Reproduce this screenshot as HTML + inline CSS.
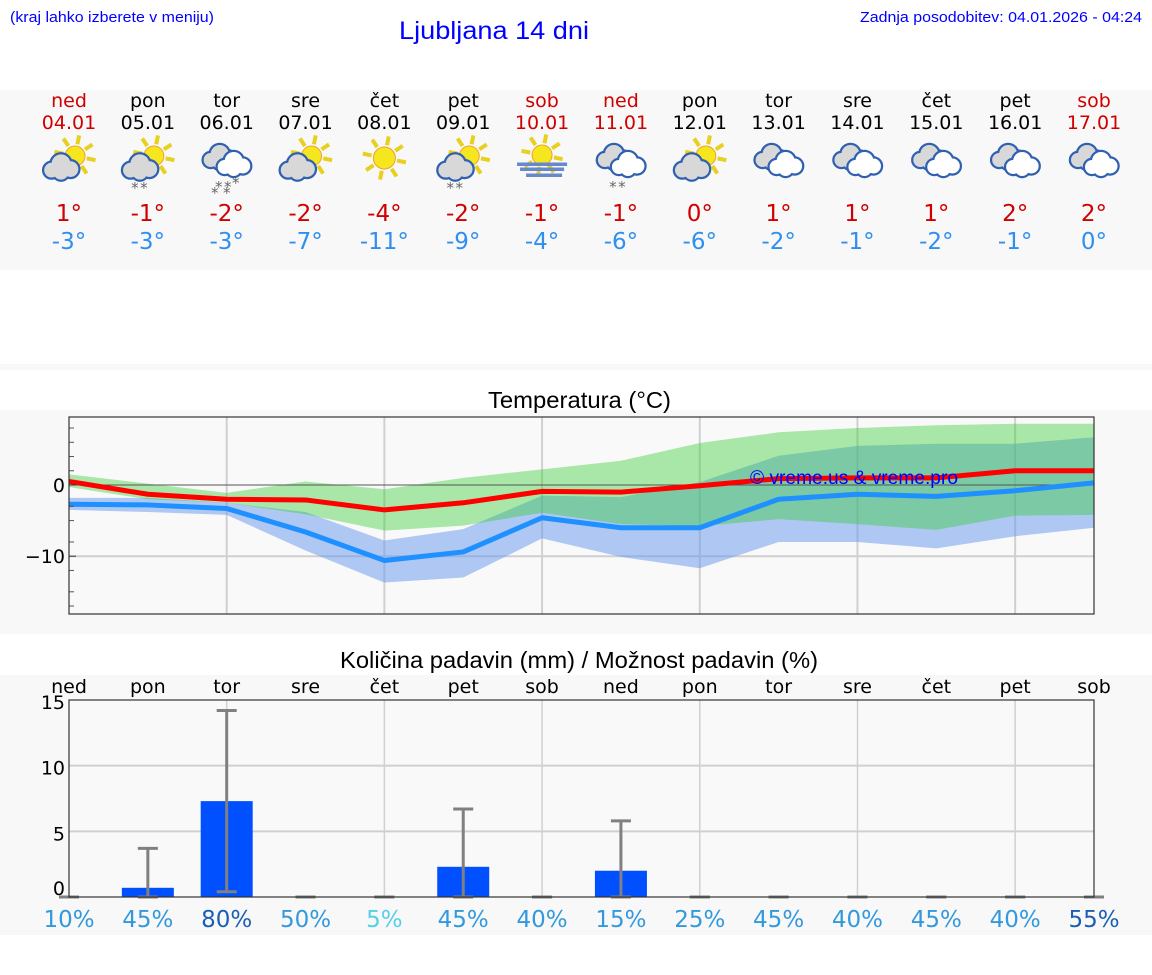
<!DOCTYPE html>
<html><head><meta charset="utf-8">
<style>
html,body{margin:0;padding:0;background:#fff;width:1152px;height:975px;overflow:hidden}
svg{display:block}
text{font-family:"DejaVu Sans","Liberation Sans",sans-serif}
.ar{font-family:"Liberation Sans",sans-serif}
</style></head>
<body>
<svg id="root" width="1152" height="975" viewBox="0 0 1152 975" xmlns="http://www.w3.org/2000/svg">
  <rect x="0" y="90" width="1152" height="180" fill="#f8f8f8"/>
  <rect x="0" y="364" width="1152" height="6" fill="#f8f8f8"/>
  <rect x="0" y="410" width="1152" height="224" fill="#f8f8f8"/>
  <rect x="0" y="675" width="1152" height="260" fill="#f8f8f8"/>
  <text class="ar" x="10" y="22" font-size="15" fill="#0000ff" textLength="204" lengthAdjust="spacingAndGlyphs">(kraj lahko izberete v meniju)</text>
  <text class="ar" x="399" y="39" font-size="25" fill="#0000ff" textLength="190" lengthAdjust="spacingAndGlyphs">Ljubljana 14 dni</text>
  <text class="ar" x="860" y="22" font-size="15" fill="#0000ff" textLength="282" lengthAdjust="spacingAndGlyphs">Zadnja posodobitev: 04.01.2026 - 04:24</text>
  <g id="days"></g>
  <text class="ar" x="488" y="408" font-size="23" fill="#000" textLength="183" lengthAdjust="spacingAndGlyphs">Temperatura (°C)</text>
  <g id="temp"></g>
  <text class="ar" x="340" y="668" font-size="23" fill="#000" textLength="478" lengthAdjust="spacingAndGlyphs">Količina padavin (mm) / Možnost padavin (%)</text>
  <g id="prec"></g>
</svg>
<script>
const dayNames=["ned","pon","tor","sre","čet","pet","sob","ned","pon","tor","sre","čet","pet","sob"];
const dates=["04.01","05.01","06.01","07.01","08.01","09.01","10.01","11.01","12.01","13.01","14.01","15.01","16.01","17.01"];
const iconTypes=["pc","pcs","cs","pc","sun","pcs","fog","cs","pc","cl","cl","cl","cl","cl"];
const dayMax=[1,-1,-2,-2,-4,-2,-1,-1,0,1,1,1,2,2];
const dayMin=[-3,-3,-3,-7,-11,-9,-4,-6,-6,-2,-1,-2,-1,0];
const tMax=[0.5,-1.3,-2,-2.1,-3.5,-2.5,-0.9,-1,-0.1,0.9,1,1,2,2];
const tMin=[-2.7,-2.8,-3.3,-6.6,-10.6,-9.4,-4.6,-6,-6,-2,-1.3,-1.6,-0.8,0.3];
const maxHi=[1.5,0.2,-1.1,0.5,-0.6,1,2.2,3.4,5.9,7.4,8,8.4,8.6,8.6];
const maxLo=[-0.3,-2,-2.5,-4.1,-6.4,-5.7,-3.9,-5.5,-5.8,-4.8,-5.5,-6.3,-4.3,-4.2];
const minHi=[-1.8,-1.8,-2.5,-3.8,-7.8,-6.2,-1.5,-1.7,0.4,4.1,5.5,5.8,5.8,6.7];
const minLo=[-3.5,-3.8,-4.2,-9.2,-13.7,-13,-7.5,-10.1,-11.7,-8,-8,-8.9,-7.2,-6];
const tTicks=[0,-10];
const precip=[0,0.7,7.3,0,0,2.3,0,2.0,0,0,0,0,0,0];
const errHi=[0,3.7,14.2,0,0,6.7,0,5.8,0,0,0,0,0,0];
const errLo=[0,0,0.4,0,0,0,0,0,0,0,0,0,0,0];
const probs=[10,45,80,50,5,45,40,15,25,45,40,45,40,55];
const pTicks=[15,10,5,0];

const NS="http://www.w3.org/2000/svg";
function mk(tag,attrs,parent,txt){const e=document.createElementNS(NS,tag);for(const k in attrs)e.setAttribute(k,attrs[k]);if(txt!==undefined)e.textContent=txt;parent.appendChild(e);return e;}
const X0=69,X1=1094;
const xd=i=>X0+i*(X1-X0)/13;
const redDay=i=>(i===0||i===6||i===7||i===13);

const days=document.getElementById('days');
function sun(g,cx,cy,r){
  for(let k=0;k<8;k++){const a=k*Math.PI/4+0.2;
    mk('line',{x1:cx+Math.cos(a)*(r+2),y1:cy+Math.sin(a)*(r+2),x2:cx+Math.cos(a)*(r+11),y2:cy+Math.sin(a)*(r+11),stroke:'#e8d020','stroke-width':4},g);}
  mk('circle',{cx:cx,cy:cy,r:r,fill:'#f5e61e',stroke:'#f0a030','stroke-width':1},g);
}
function cloud(g,cx,cy,s,fill){
  const c=[[-9,3,7],[0,-3,9],[9,2,7.5],[0,5,7]];
  c.forEach(p=>mk('circle',{cx:cx+p[0]*s,cy:cy+p[1]*s,r:p[2]*s,fill:'#3060b0',stroke:'#3060b0','stroke-width':4.5},g));
  c.forEach(p=>mk('circle',{cx:cx+p[0]*s,cy:cy+p[1]*s,r:p[2]*s,fill:fill},g));
}
function snow(g,pts){pts.forEach(p=>mk('text',{x:p[0],y:p[1],'font-size':15,fill:'#666','text-anchor':'middle'},g,'*'));}
for(let i=0;i<14;i++){
  const cx=xd(i);
  const col=mk('g',{},days);
  
  
  const c=redDay(i)?'#d00000':'#000';
  mk('text',{x:cx,y:107,'font-size':19,'text-anchor':'middle',fill:c},col,dayNames[i]);
  mk('text',{x:cx,y:129,'font-size':19,'text-anchor':'middle',fill:c},col,dates[i]);
  const ic=mk('g',{},col);
  
  
  const t=iconTypes[i];
  if(t==='pc'||t==='pcs'){sun(ic,cx+6,156,10);cloud(ic,cx-8,167,1.05,'#d8d8d8');if(t==='pcs')snow(ic,[[cx-13,193],[cx-4,193]]);}
  else if(t==='sun'){sun(ic,cx,158,11);}
  else if(t==='fog'){sun(ic,cx,155,10);[[164,50,0],[169,44,0],[175,36,2]].forEach(f=>mk('rect',{x:cx-f[1]/2+f[2],y:f[0]-1.5,width:f[1],height:3.5,fill:'#6688cc'},ic));}
  else {cloud(ic,cx-7,157,1.0,'#d8d8d8');cloud(ic,cx+7,164,1.0,'#fff');if(t==='cs')snow(ic,[[cx-8,192],[cx+1,192]].concat(i===2?[[cx-12,198],[cx,198],[cx+9,188]]:[]));}
  const a=mk('text',{x:cx,y:221,'font-size':23,'text-anchor':'middle',fill:'#d00000'},col,dayMax[i]+'°');
  
  
  const b=mk('text',{x:cx,y:249,'font-size':23,'text-anchor':'middle',fill:'#2f8ff0'},col,dayMin[i]+'°');
  
  
}

const tg=document.getElementById('temp');
const TY0=417,TY1=614;
const yt=v=>485-v*7.12;
mk('rect',{x:X0,y:TY0,width:X1-X0,height:TY1-TY0,fill:'#f9f9f9'},tg);
for(let k=2;k<13;k+=2)mk('line',{x1:xd(k),x2:xd(k),y1:TY0,y2:TY1,stroke:'#d0d0d0','stroke-width':2},tg);
mk('line',{x1:X0,x2:X1,y1:yt(-10),y2:yt(-10),stroke:'#d0d0d0','stroke-width':2},tg);
function band(hi,lo,fill,op,name){
  let d='M'+hi.map((v,i)=>xd(i)+','+yt(v)).join('L')+'L'+lo.map((v,i)=>xd(i)+','+yt(v)).reverse().join('L')+'Z';
  const p=mk('path',{d:d,fill:fill,'fill-opacity':op},tg);
  
  
}
band(minHi,minLo,'#6495ed',0.5,'min-temp-range');
band(maxHi,maxLo,'#32cd32',0.4,'max-temp-range');
mk('line',{x1:X0,x2:X1,y1:yt(0),y2:yt(0),stroke:'#555','stroke-width':1},tg);
function line(arr,color,name){
  const p=mk('polyline',{points:arr.map((v,i)=>xd(i)+','+yt(v)).join(' '),fill:'none',stroke:color,'stroke-width':5,'stroke-linejoin':'round'},tg);
  
  
}
line(tMin,'#1e90ff','min-temp-line');
line(tMax,'#ff0000','max-temp-line');
const wm=mk('text',{x:750,y:484,'font-size':19,fill:'#0000ff',class:'ar',textLength:208,lengthAdjust:'spacingAndGlyphs'},tg,'© vreme.us & vreme.pro');


[-17,-15,-12,-8,-5,-3,2,4,6,8].forEach(v=>mk('line',{x1:X0,x2:X0+5,y1:yt(v),y2:yt(v),stroke:'#555','stroke-width':1},tg));
tTicks.forEach(v=>{
  mk('line',{x1:X0,x2:X0+7,y1:yt(v),y2:yt(v),stroke:'#333'},tg);
  const t=mk('text',{x:X0-4,y:yt(v)+7,'font-size':19,'text-anchor':'end',fill:'#000'},tg,v<0?'−'+(-v):String(v));
  
  
});
mk('rect',{x:X0,y:TY0,width:X1-X0,height:TY1-TY0,fill:'none',stroke:'#333','stroke-width':1.2},tg);

const pg=document.getElementById('prec');
const PY0=700,PY1=897;
const yp=v=>PY1-v*(PY1-PY0)/15;
mk('rect',{x:X0,y:PY0,width:X1-X0,height:PY1-PY0,fill:'#f9f9f9'},pg);
for(let k=2;k<13;k+=2)mk('line',{x1:xd(k),x2:xd(k),y1:PY0,y2:PY1,stroke:'#d0d0d0','stroke-width':1.5},pg);
[5,10].forEach(v=>mk('line',{x1:X0,x2:X1,y1:yp(v),y2:yp(v),stroke:'#d0d0d0','stroke-width':2},pg));
for(let i=0;i<14;i++){
  const d=mk('text',{x:xd(i),y:693,'font-size':19,'text-anchor':'middle',fill:'#000'},pg,dayNames[i]);
  
  
  if(precip[i]>0){
    const b=mk('rect',{x:xd(i)-26,y:yp(precip[i]),width:52,height:yp(0)-yp(precip[i]),fill:'#0050ff'},pg);
    
    
  }
  const eg=mk('g',{stroke:'#808080','stroke-width':3},pg);
  
  
  mk('line',{x1:xd(i),x2:xd(i),y1:yp(errHi[i]),y2:yp(errLo[i])},eg);
  mk('line',{x1:xd(i)-10,x2:xd(i)+10,y1:yp(errHi[i]),y2:yp(errHi[i])},eg);
  mk('line',{x1:xd(i)-10,x2:xd(i)+10,y1:yp(errLo[i]),y2:yp(errLo[i])},eg);
  const p=probs[i];
  const col=p>=55?'#1a5fb4':(p<=5?'#55d0ea':'#3399dd');
  const t=mk('text',{x:xd(i),y:927,'font-size':23,'text-anchor':'middle',fill:col},pg,p+'%');
  
  
}
pTicks.forEach(v=>{
  const y=v===0?yp(0)-9:yp(v)+2;
  const t=mk('text',{x:X0-4,y:y+7,'font-size':19,'text-anchor':'end',fill:'#000'},pg,String(v));
  
  
});
mk('rect',{x:X0,y:PY0,width:X1-X0,height:PY1-PY0,fill:'none',stroke:'#333','stroke-width':1.2},pg);
</script>
</body></html>
